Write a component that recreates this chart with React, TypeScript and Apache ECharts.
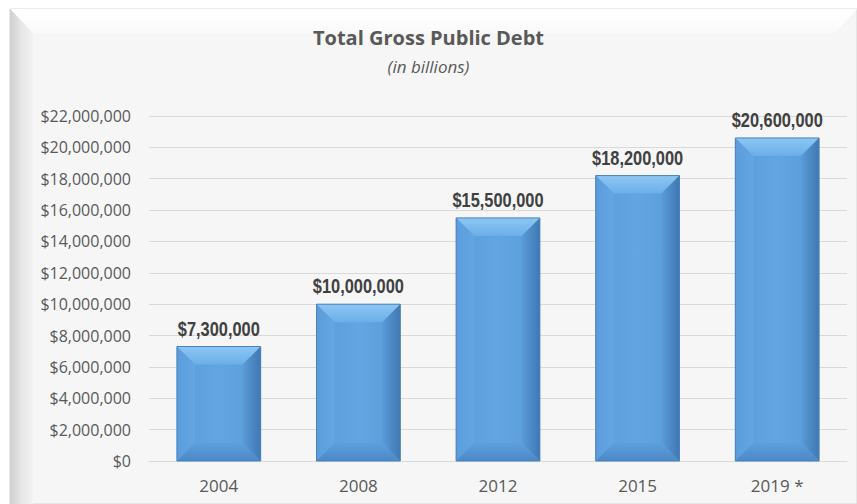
import React, { useEffect, useRef } from "react";
import * as echarts from "echarts";

const categories = ["2004", "2008", "2012", "2015", "2019 *"];
const debtValues = [7300000, 10000000, 15500000, 18200000, 20600000];
const yMax = 22000000;
const yInterval = 2000000;
const titleText = "Total Gross Public Debt";
const subtitleText = "(in billions)";

const fmt = (v: number) => "$" + Math.round(v).toLocaleString("en-US");

export default function App() {
  const ref = useRef<HTMLDivElement>(null);
  useEffect(() => {
    if (!ref.current) return;
    const chart = echarts.init(ref.current, null, { renderer: "svg" });
    const W = 857;
    const H = 504;
    const option: any = {
      animation: false,
      backgroundColor: "#ffffff",
      graphic: [
        {
          type: "rect",
          z: -10,
          shape: { x: 10, y: 9, width: W - 10, height: H - 9 },
          style: { fill: "#f6f6f6", stroke: "#d6d6d6", lineWidth: 1 },
        },
        {
          type: "polygon",
          z: -9,
          shape: { points: [[10, 9], [W, 9], [W - 22, 33], [33, 33]] },
          style: {
            fill: new echarts.graphic.LinearGradient(0, 0, 0, 1, [
              { offset: 0, color: "#ffffff" },
              { offset: 1, color: "#fafafa" },
            ]),
          },
        },
        {
          type: "polygon",
          z: -9,
          shape: { points: [[10, 9], [33, 33], [33, H], [10, H]] },
          style: {
            fill: new echarts.graphic.LinearGradient(0, 0, 1, 0, [
              { offset: 0, color: "#cfcfcf" },
              { offset: 0.5, color: "#e6e6e6" },
              { offset: 1, color: "#f3f3f3" },
            ]),
          },
        },
        {
          type: "text",
          left: "center",
          top: 27,
          style: {
            text: titleText,
            font: "bold 20px 'Open Sans', sans-serif",
            fill: "#595959",
          },
        },
        {
          type: "text",
          left: "center",
          top: 58,
          style: {
            text: subtitleText,
            font: "italic 17px 'Open Sans', sans-serif",
            fill: "#595959",
          },
        },
      ],
      grid: { left: 149, right: 10, top: 116, bottom: 43 },
      xAxis: {
        type: "category",
        data: categories,
        axisLine: { show: true, lineStyle: { color: "#d9d9d9" } },
        axisTick: { show: false },
        axisLabel: {
          color: "#595959",
          fontSize: 17,
          fontFamily: "'Open Sans', sans-serif",
          margin: 16,
        },
      },
      yAxis: {
        type: "value",
        min: 0,
        max: yMax,
        interval: yInterval,
        axisLine: { show: false },
        axisTick: { show: false },
        splitLine: { lineStyle: { color: "#d9d9d9", width: 1 } },
        axisLabel: {
          color: "#595959",
          fontSize: 16,
          fontFamily: "'Open Sans', sans-serif",
          margin: 18,
          formatter: (v: number) => fmt(v),
        },
      },
      series: [
        {
          type: "bar",
          data: debtValues,
          barWidth: "60%",
          itemStyle: {
            color: new echarts.graphic.LinearGradient(0, 0, 1, 0, [
              { offset: 0, color: "#5a9cda" },
              { offset: 0.5, color: "#62a5e2" },
              { offset: 1, color: "#5a9bd7" },
            ]),
            borderColor: "#4a86c0",
            borderWidth: 1,
          },
          z: 2,
        },
        {
          type: "custom",
          data: debtValues.map((v, i) => [i, v]),
          silent: true,
          z: 3,
          renderItem: (params: any, api: any) => {
            const idx = api.value(0);
            const val = api.value(1);
            const top = api.coord([idx, val]);
            const base = api.coord([idx, 0]);
            const bw = api.size([1, 0])[0] * 0.6;
            const x0 = top[0] - bw / 2;
            const x1 = top[0] + bw / 2;
            const y0 = top[1];
            const y1 = base[1];
            const b = 18;
            return {
              type: "group",
              children: [
                {
                  type: "polygon",
                  shape: { points: [[x0, y0], [x1, y0], [x1 - b, y0 + b], [x0 + b, y0 + b]] },
                  style: {
                    fill: new echarts.graphic.LinearGradient(0, 0, 0, 1, [
                      { offset: 0, color: "#8ec6f3" },
                      { offset: 1, color: "#6aafe8" },
                    ]),
                  },
                },
                {
                  type: "polygon",
                  shape: { points: [[x0, y0], [x0 + b, y0 + b], [x0 + b, y1 - b], [x0, y1]] },
                  style: {
                    fill: new echarts.graphic.LinearGradient(0, 0, 1, 0, [
                      { offset: 0, color: "#5b9ddb" },
                      { offset: 1, color: "#63a6e3" },
                    ]),
                  },
                },
                {
                  type: "polygon",
                  shape: { points: [[x1, y0], [x1 - b, y0 + b], [x1 - b, y1 - b], [x1, y1]] },
                  style: {
                    fill: new echarts.graphic.LinearGradient(0, 0, 1, 0, [
                      { offset: 0, color: "#5a9bd8" },
                      { offset: 1, color: "#3f78b2" },
                    ]),
                  },
                },
                {
                  type: "polygon",
                  shape: { points: [[x0, y1], [x1, y1], [x1 - b, y1 - b], [x0 + b, y1 - b]] },
                  style: {
                    fill: new echarts.graphic.LinearGradient(0, 0, 0, 1, [
                      { offset: 0, color: "#5d9fdc" },
                      { offset: 1, color: "#4b88c6" },
                    ]),
                  },
                },
                {
                  type: "rect",
                  shape: { x: x0, y: y0, width: bw, height: y1 - y0 },
                  style: { fill: "none", stroke: "#4a82bb", lineWidth: 1 },
                },
                {
                  type: "text",
                  x: top[0],
                  y: y0 - 8,
                  scaleX: 0.82,
                  style: {
                    text: fmt(val),
                    x: 0,
                    y: 0,
                    align: "center",
                    verticalAlign: "bottom",
                    font: "bold 20px 'Liberation Sans', Arial, sans-serif",
                    fill: "#404040",
                  },
                },
              ],
            };
          },
        },
      ],
    };
    chart.setOption(option);
    return () => chart.dispose();
  }, []);
  return (
    <div
      ref={ref}
      style={{ position: "fixed", left: 0, top: 0, width: 857, height: 504 }}
    />
  );
}
